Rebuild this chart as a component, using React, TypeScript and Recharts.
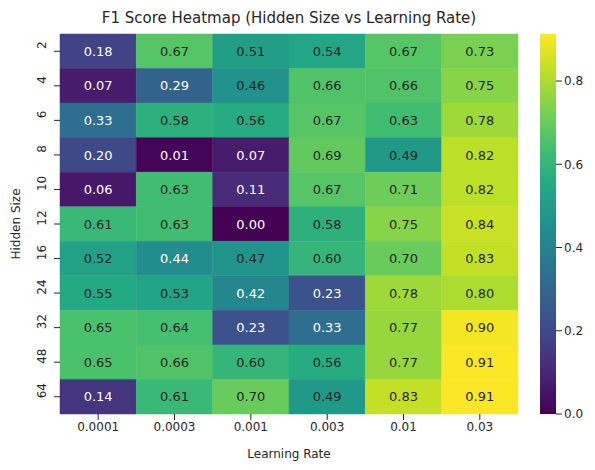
import React from "react";
import { ScatterChart, Scatter, XAxis, YAxis, ReferenceArea, Customized } from "recharts";

const learningRates = ["0.0001", "0.0003", "0.001", "0.003", "0.01", "0.03"];
const hiddenSizes = ["2", "4", "6", "8", "10", "12", "16", "24", "32", "48", "64"];
const f1Scores = [
  [0.18, 0.67, 0.51, 0.54, 0.67, 0.73],
  [0.07, 0.29, 0.46, 0.66, 0.66, 0.75],
  [0.33, 0.58, 0.56, 0.67, 0.63, 0.78],
  [0.2, 0.01, 0.07, 0.69, 0.49, 0.82],
  [0.06, 0.63, 0.11, 0.67, 0.71, 0.82],
  [0.61, 0.63, 0.0, 0.58, 0.75, 0.84],
  [0.52, 0.44, 0.47, 0.6, 0.7, 0.83],
  [0.55, 0.53, 0.42, 0.23, 0.78, 0.8],
  [0.65, 0.64, 0.23, 0.33, 0.77, 0.9],
  [0.65, 0.66, 0.6, 0.56, 0.77, 0.91],
  [0.14, 0.61, 0.7, 0.49, 0.83, 0.91],
];
const colorTicks = [0, 0.2, 0.4, 0.6, 0.8];
const VMAX = 0.913;

const viridis = ["#440154", "#482475", "#414487", "#355f8d", "#2a788e", "#21918c", "#22a884", "#44bf70", "#7ad151", "#bddf26", "#fde725"];
function hex(c: string) { return [1, 3, 5].map((i) => parseInt(c.slice(i, i + 2), 16)); }
function cmap(t: number) {
  t = Math.max(0, Math.min(1, t)) * 10;
  const i = Math.min(9, Math.floor(t));
  const f = t - i;
  const a = hex(viridis[i]), b = hex(viridis[i + 1]);
  const c = a.map((v, k) => Math.round(v + (b[k] - v) * f));
  return `rgb(${c[0]},${c[1]},${c[2]})`;
}

const cells = f1Scores.flatMap((row, r) => row.map((v, c) => ({ x: c + 0.5, y: r + 0.5, r, c, v })));

const W = 595, H = 470;
const M = { top: 34, right: 77, bottom: 0, left: 0 };
const YW = 60, XH = 56;
const font = "DejaVu Sans, sans-serif";
const Empty = () => <g />;

const stops = viridis.map((c, i) => <stop key={i} offset={`${i * 10}%`} stopColor={c} />);

export default function App() {
  return (
    <div style={{ position: "relative", width: W, height: H, margin: -8, background: "#fff", fontFamily: font }}>
      <div style={{ position: "absolute", left: 0, top: 0 }}>
        <ScatterChart width={W} height={H} margin={M}>
          <XAxis type="number" dataKey="x" domain={[0, 6]} ticks={learningRates.map((_, i) => i + 0.5)}
            tickFormatter={(v: number) => learningRates[Math.floor(v)]} height={XH} axisLine={false} interval={0}
            tick={{ fill: "#262626", fontSize: 12, fontFamily: font }} tickLine={{ stroke: "#262626" }}
            label={{ value: "Learning Rate", position: "insideBottom", offset: 12, fill: "#262626", fontSize: 12, fontFamily: font }} />
          <YAxis type="number" dataKey="y" domain={[0, 11]} reversed ticks={hiddenSizes.map((_, i) => i + 0.5)}
            width={YW} axisLine={false} interval={0}
            tick={(t: any) => (
              <text x={t.x} y={t.y} transform={`rotate(-90 ${t.x - 6} ${t.y})`} textAnchor="middle" fontSize={12} fontFamily={font} fill="#262626">
                {hiddenSizes[Math.floor(t.payload.value)]}
              </text>
            )} tickLine={{ stroke: "#262626" }} />
          {cells.map((d) => (
            <ReferenceArea key={`${d.r}-${d.c}`} x1={d.c} x2={d.c + 1} y1={d.r} y2={d.r + 1}
              fill={cmap(d.v / VMAX)} fillOpacity={1} stroke={cmap(d.v / VMAX)} strokeWidth={0.5}
              label={{ value: d.v.toFixed(2), position: "center", fontSize: 13, fontFamily: font, fill: d.v < 0.45 ? "#fff" : "#262626" }} />
          ))}
          <Scatter data={cells} shape={Empty} isAnimationActive={false} />
          <Customized component={() => (
            <g>
              <text x={289} y={23} textAnchor="middle" fontSize={15} fontFamily={font} fill="#262626">
                F1 Score Heatmap (Hidden Size vs Learning Rate)
              </text>
              <text x={16} y={224} transform="rotate(-90 16 224)" textAnchor="middle" dominantBaseline="central" fontSize={12} fontFamily={font} fill="#262626">
                Hidden Size
              </text>
            </g>
          )} />
        </ScatterChart>
      </div>
      <div style={{ position: "absolute", left: 0, top: 0 }}>
        <ScatterChart width={W} height={H} margin={{ top: 34, right: 0, bottom: 56, left: 540 }}>
          <defs>
            <linearGradient id="vir" x1="0" y1="1" x2="0" y2="0">{stops}</linearGradient>
          </defs>
          <XAxis type="number" dataKey="x" domain={[0, 1]} hide />
          <YAxis type="number" dataKey="y" orientation="right" domain={[0, VMAX]} ticks={colorTicks} width={39}
            axisLine={false} tickFormatter={(v: number) => v.toFixed(1)}
            tick={{ fill: "#262626", fontSize: 12, fontFamily: font }} tickLine={{ stroke: "#262626" }} />
          <ReferenceArea x1={0} x2={1} y1={0} y2={VMAX} fill="url(#vir)" fillOpacity={1} stroke="none" />
          <Scatter data={[{ x: 0.5, y: 0.1 }]} shape={Empty} isAnimationActive={false} />
        </ScatterChart>
      </div>
    </div>
  );
}
